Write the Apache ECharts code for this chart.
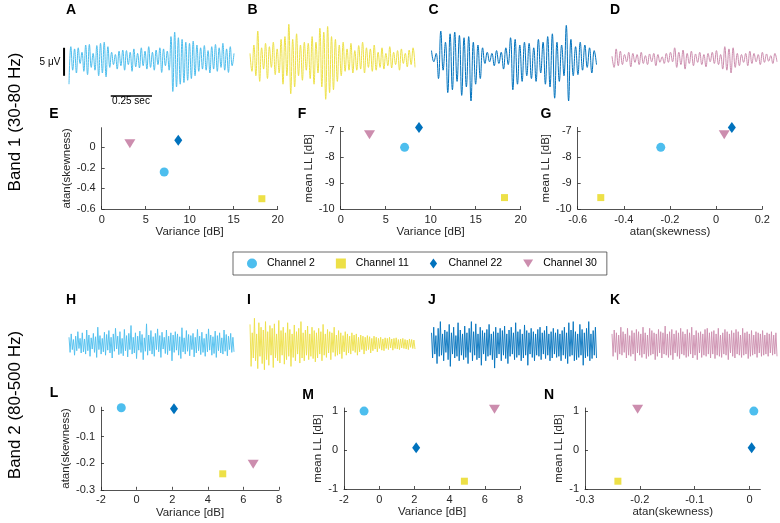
<!DOCTYPE html>
<html><head><meta charset="utf-8">
<script src="https://cdn.jsdelivr.net/npm/echarts@6/dist/echarts.min.js"></script>
<style>html,body{margin:0;padding:0;background:#fff}#c{width:780px;height:523px}</style>
</head><body><div id="c"></div>
<script>
// ---------- DATA ----------
const channels = ['Channel 2', 'Channel 11', 'Channel 22', 'Channel 30'];
// Band 1 (30-80 Hz) features per channel
const b1Variance = [7.1, 18.2, 8.7, 3.2];
const b1Skew = [-0.24, -0.5, 0.068, 0.035];
const b1MeanLL = [-7.62, -9.56, -6.85, -7.13];
// Band 2 (80-500 Hz) features per channel
const b2Variance = [-0.86, 4.84, 2.1, 6.55];
const b2Skew = [0.008, -0.24, 0.004, -0.204];
const b2MeanLL = [1.0, -0.8, 0.06, 1.05];

// Tick labels
const ticksVar1 = [0, 5, 10, 15, 20];
const ticksSkew1 = [-0.6, -0.4, -0.2, 0];
const ticksSkew1x = [-0.6, -0.4, -0.2, 0, 0.2];
const ticksLL1 = [-10, -9, -8, -7];
const ticksVar2 = [-2, 0, 2, 4, 6, 8];
const ticksSkew2 = [-0.3, -0.2, -0.1, 0];
const ticksLL2 = [-1, 0, 1];

// Example traces (amplitude in 0.1 µV), band 1: successive peaks/troughs over 1 s
const traceA = [-45,22,-20,18,-25,20,-8,12,-22,25,-28,26,-15,10,-20,24,-30,28,-25,30,-32,22,-15,12,-10,8,-18,14,-12,16,
 -20,15,-10,12,-22,18,-14,10,-16,20,-12,14,-18,22,-15,12,-20,16,-10,20,-24,18,-12,14,
 -20,40,-58,48,-50,38,-45,35,-42,30,-38,28,-35,32,-30,25,
 -22,20,-18,24,-20,15,-25,22,-18,26,-22,20,-15,28,-20,18,-24,22,-12,10];
const traceB = [10,-22,25,-30,50,-40,20,-18,28,-35,22,-15,30,-28,18,-25,35,-45,40,-30,62,-62,35,-50,45,-30,25,-38,30,-20,
 28,-35,40,-45,30,-25,55,-50,48,-72,58,-60,40,-55,35,-40,25,-30,30,-22,18,-20,28,-25,15,-20,24,-18,30,-25,
 20,-15,18,-22,25,-20,12,-15,20,-18,10,-12,22,-16,12,-10,15,-20,18,-8,10,-14,16,-10,20,-15];
const traceC = [15,-5,10,-35,50,-20,30,-60,45,-55,48,-40,42,-65,38,-50,40,-75,30,-45,25,-35,20,-8,12,-5,10,-12,15,-8,
 12,-18,20,-10,38,-55,35,-45,25,-40,30,-30,28,-35,20,-40,35,-25,30,-45,40,-50,45,-70,30,-40,25,-30,60,-75,
 35,-30,22,-28,30,-20,25,-15,20,-25,15,-10];
const traceD = [5,-15,18,-12,14,-10,8,-5,12,-14,10,-6,8,-10,12,-8,6,-10,9,-5,10,-12,8,-6,4,-8,10,-6,12,-5,
 20,-15,12,-10,16,-18,10,-8,14,-12,9,-6,12,-10,8,-14,10,-5,12,-8,15,-10,8,-18,22,-20,18,-25,20,-15,
 10,-12,8,-6,10,-12,14,-8,10,-5,8,-10,12,-6,9,-4,6,-8,10,-5];
// band 2 traces
const traceH = [12,-15,18,-10,8,-20,14,-12,22,-8,10,-16,20,-14,9,-18,25,-12,16,-22,11,-9,19,-15,13,-24,30,-10,15,-18,
 10,-14,21,-20,17,-11,24,-16,12,-25,18,-13,28,-9,14,-19,22,-17,10,-21,26,-12,15,-23,19,-10,33,-18,12,-16,
 20,-26,14,-11,23,-15,17,-28,11,-13,36,-20,16,-12,24,-18,13,-22,19,-10,27,-14,15,-24,21,-9,12,-17,25,-19,
 14,-12,20,-30,16,-15,22,-11,18,-20,13,-26,29,-14,11,-18,24,-13,17,-21,15,-10,19,-23,12,-16,26,-12,14,-19,
 21,-15,10,-22,18,-14,27,-11,16,-20,13,-17,23,-24,15,-12,20,-16,11,-18,25,-13,17,-21,14,-10,19,-15,12,-14];
const traceI = [35,-40,20,-25,46,-30,18,-44,38,-22,30,-35,25,-46,40,-28,22,-38,33,-20,28,-42,36,-25,18,-30,42,-34,24,-20,
 30,-36,20,-28,38,-22,26,-40,18,-24,34,-30,22,-18,28,-34,40,-25,20,-30,25,-20,32,-28,18,-22,30,-26,24,-32,
 20,-25,28,-18,22,-30,35,-20,18,-24,26,-16,22,-28,20,-15,30,-22,16,-20,24,-18,20,-26,15,-14,22,-20,18,-16,
 14,-18,20,-12,16,-15,18,-20,12,-14,16,-10,14,-18,12,-12,15,-10,13,-16,10,-12,14,-9,12,-14,10,-8,12,-11,
 9,-12,11,-8,10,-10,12,-7,9,-11,10,-8,11,-9,8,-10,9,-7,10,-8,8,-9,7,-10,9,-6,8,-8,7,-9];
const traceJ = [20,-25,30,-18,15,-35,28,-22,40,-20,18,-30,25,-15,22,-28,35,-40,20,-18,30,-25,15,-22,38,-30,25,-20,18,-28,
 32,-24,20,-35,28,-15,40,-30,22,-20,36,-28,18,-25,30,-38,24,-18,20,-30,26,-22,35,-20,18,-28,22,-43,30,-25,
 20,-18,28,-30,24,-20,32,-26,18,-35,25,-22,30,-18,20,-28,38,-24,22,-20,26,-30,18,-25,34,-20,24,-38,20,-18,
 28,-24,22,-30,18,-20,26,-22,30,-28,20,-18,24,-26,32,-20,18,-30,22,-25,28,-18,20,-24,26,-22,18,-30,24,-20,
 30,-26,20,-35,38,-22,25,-20,40,-30,22,-28,18,-24,35,-20,26,-38,20,-25,28,-22,40,-30,18,-26,24,-20,30,-25];
const traceK = [18,-22,25,-15,20,-28,16,-18,30,-20,22,-15,18,-25,28,-20,15,-22,24,-18,20,-30,26,-16,22,-20,18,-24,30,-18,
 20,-26,16,-22,28,-20,24,-18,20,-28,18,-22,26,-16,22,-25,20,-18,32,-20,18,-24,22,-20,26,-28,18,-16,24,-22,
 20,-26,28,-18,22,-20,18,-24,26,-22,20,-18,30,-25,16,-20,24,-28,20,-16,22,-24,18,-20,26,-22,28,-18,20,-25,
 22,-18,24,-26,18,-20,28,-22,16,-24,20,-18,26,-20,22,-28,18,-16,24,-22,20,-25,26,-18,22,-20,16,-24,28,-20,
 20,-18,22,-26,18,-22,24,-20,16,-18,22,-24,20,-16,18,-22,24,-20,16,-18,20,-22,18,-16,22,-20,16,-18,20,-22];
const traceDuration = 1.0;      // seconds shown per trace
const scaleBarAmp = 50;         // 5 µV in 0.1 µV units
const scaleBarTime = 0.25;      // seconds

// ---------- STYLE ----------
const FONT = '"Liberation Sans", Arial, Helvetica, sans-serif';
const INK = '#262626';
const chColors = ['#4DBEEE', '#EDE047', '#0072BD', '#CC8DAE'];
const chSymbols = ['circle', 'rect', 'diamond', 'triangle'];
const chSizes = [9, 7, [8, 11], [11, 9]];
const chRotate = [0, 0, 0, 180];
const legendIcons = ['circle', 'path://M0,0L7,0L7,7L0,7Z', 'path://M4,0L8,5.5L4,11L0,5.5Z', 'path://M0,0L11,0L5.5,9Z'];

const grids = [];
const xAxes = [];
const yAxes = [];
const series = [];

// trace panels
const traceSets = [
  {d: traceA, c: chColors[0], left: 69, top: 17},
  {d: traceB, c: chColors[1], left: 250, top: 17},
  {d: traceC, c: chColors[2], left: 431.5, top: 17},
  {d: traceD, c: chColors[3], left: 612, top: 17},
  {d: traceH, c: chColors[0], left: 69, top: 302, w: 0.9},
  {d: traceI, c: chColors[1], left: 250, top: 302, w: 0.9},
  {d: traceJ, c: chColors[2], left: 431.5, top: 302, w: 0.9},
  {d: traceK, c: chColors[3], left: 612, top: 302, w: 0.9}
];
const TW = 165, TH = 84;
traceSets.forEach((t, k) => {
  const gi = grids.length;
  grids.push({left: t.left, top: t.top, width: TW, height: TH, outerBoundsMode: 'none', containLabel: false});
  xAxes.push({gridIndex: gi, type: 'value', min: 0, max: traceDuration, show: false});
  yAxes.push({gridIndex: gi, type: 'value', min: -75, max: 75, show: false});
  const n = t.d.length;
  series.push({
    name: 'trace' + k, type: 'line', xAxisIndex: gi, yAxisIndex: gi,
    data: t.d.map((v, i) => [i / (n - 1) * traceDuration, v]),
    showSymbol: false, smooth: t.w ? false : 0.45, silent: true,
    lineStyle: {color: t.c, width: t.w || 1}, itemStyle: {color: t.c}
  });
});
// scale-bar grid: same scale as trace A, extended to the left
(function () {
  const gi = grids.length;
  const x0 = -0.06;
  grids.push({left: 69 + x0 * TW, top: 17, width: TW * (traceDuration - x0), height: TH, outerBoundsMode: 'none', containLabel: false});
  xAxes.push({gridIndex: gi, type: 'value', min: x0, max: traceDuration, show: false});
  yAxes.push({gridIndex: gi, type: 'value', min: -75, max: 75, show: false});
  series.push({
    name: 'scaleV', type: 'line', xAxisIndex: gi, yAxisIndex: gi, silent: true,
    data: [[-0.03, -30], [-0.03, -30 + scaleBarAmp]], showSymbol: false,
    lineStyle: {color: '#000', width: 2}
  });
  series.push({
    name: 'scaleH', type: 'line', xAxisIndex: gi, yAxisIndex: gi, silent: true,
    data: [[0.253, -66], [0.253 + scaleBarTime, -66]], showSymbol: false,
    lineStyle: {color: '#000', width: 1.5}
  });
})();

// scatter panels
function addScatter(box, xs, ys, xr, yr, xTicks, yTicks, xName, yName, yGap) {
  const gi = grids.length;
  grids.push({left: box[0], top: box[1], width: box[2], height: box[3], outerBoundsMode: 'none', containLabel: false});
  const common = {
    axisLine: {show: true, onZero: false, lineStyle: {color: INK, width: 0.8}},
    axisTick: {show: true, inside: true, length: 3, lineStyle: {color: INK, width: 0.8}},
    splitLine: {show: false},
    nameLocation: 'middle',
    nameTextStyle: {color: INK, fontSize: 11.5, fontFamily: FONT}
  };
  xAxes.push(Object.assign({}, common, {
    gridIndex: gi, type: 'value', min: xr[0], max: xr[1], name: xName, nameGap: 17,
    axisLabel: {customValues: xTicks, color: INK, fontSize: 11, fontFamily: FONT, margin: 5},
    axisTick: Object.assign({}, common.axisTick, {customValues: xTicks})
  }));
  yAxes.push(Object.assign({}, common, {
    gridIndex: gi, type: 'value', min: yr[0], max: yr[1], name: yName, nameGap: yGap,
    axisLabel: {customValues: yTicks, color: INK, fontSize: 11, fontFamily: FONT, margin: 6},
    axisTick: Object.assign({}, common.axisTick, {customValues: yTicks})
  }));
  channels.forEach((ch, c) => {
    series.push({
      name: ch, type: 'scatter', xAxisIndex: gi, yAxisIndex: gi,
      data: [[xs[c], ys[c]]],
      symbol: chSymbols[c], symbolSize: chSizes[c], symbolRotate: chRotate[c],
      itemStyle: {color: chColors[c], opacity: 1}
    });
  });
}
addScatter([101.7, 127.7, 176, 81.3], b1Variance, b1Skew, [0, 20], [-0.6, 0.19], ticksVar1, ticksSkew1, 'Variance [dB]', 'atan(skewness)', 29);
addScatter([340.7, 127.4, 180, 81.6], b1Variance, b1MeanLL, [0, 20], [-10, -6.85], ticksVar1, ticksLL1, 'Variance [dB]', 'mean LL [dB]', 25);
addScatter([577.7, 127.4, 184.6, 81.6], b1Skew, b1MeanLL, [-0.6, 0.2], [-10, -6.85], ticksSkew1x, ticksLL1, 'atan(skewness)', 'mean LL [dB]', 20.5);
addScatter([101, 407.2, 178, 82.6], b2Variance, b2Skew, [-2, 8], [-0.3, 0.01], ticksVar2, ticksSkew2, 'Variance [dB]', 'atan(skewness)', 28);
addScatter([344, 408, 176, 81], b2Variance, b2MeanLL, [-2, 8], [-1, 1.08], ticksVar2, ticksLL2, 'Variance [dB]', 'mean LL [dB]', 19.5);
addScatter([585, 408, 175.4, 81], b2Skew, b2MeanLL, [-0.3, 0.02], [-1, 1.08], ticksSkew2, ticksLL2, 'atan(skewness)', 'mean LL [dB]', 18.5);

// panel letters & labels
const letters = [['A',71,10],['B',252.5,10],['C',433.5,10],['D',615,10],['E',54,114],['F',302,114],['G',546,114],
  ['H',71,300.5],['I',249,300.5],['J',432,300.5],['K',615,300.5],['L',54,393],['M',308,395],['N',549,395]];
const graphic = letters.map(l => ({
  type: 'text', x: l[1], y: l[2], silent: true,
  style: {text: l[0], fill: '#000', font: 'bold 14px ' + FONT, textAlign: 'center', textVerticalAlign: 'middle'}
}));
graphic.push({type: 'text', x: 15, y: 122, rotation: Math.PI / 2, silent: true,
  style: {text: 'Band 1 (30-80 Hz)', fill: '#000', font: '17px ' + FONT, textAlign: 'center', textVerticalAlign: 'middle'}});
graphic.push({type: 'text', x: 15, y: 405, rotation: Math.PI / 2, silent: true,
  style: {text: 'Band 2 (80-500 Hz)', fill: '#000', font: '17px ' + FONT, textAlign: 'center', textVerticalAlign: 'middle'}});
graphic.push({type: 'text', x: 50, y: 62, silent: true,
  style: {text: '5 \u03bcV', fill: '#000', font: '10px ' + FONT, textAlign: 'center', textVerticalAlign: 'middle'}});
graphic.push({type: 'text', x: 131, y: 101, silent: true,
  style: {text: '0.25 sec', fill: '#000', font: '10px ' + FONT, textAlign: 'center', textVerticalAlign: 'middle'}});

const chart = echarts.init(document.getElementById('c'), null, {renderer: 'canvas'});
chart.setOption({
  animation: false,
  backgroundColor: '#fff',
  textStyle: {fontFamily: FONT},
  grid: grids, xAxis: xAxes, yAxis: yAxes, series: series,
  legend: {
    data: channels.map((ch, c) => ({name: ch, icon: legendIcons[c]})),
    left: 233, top: 252, orient: 'horizontal',
    itemWidth: 10, itemHeight: 10, itemGap: 21,
    padding: [6, 10, 6, 14], borderColor: '#444', borderWidth: 0.8,
    textStyle: {color: '#000', fontSize: 10.5, fontFamily: FONT, padding: [0, 0, 0, 5]},
    selectedMode: false
  },
  graphic: graphic
});
</script></body></html>
